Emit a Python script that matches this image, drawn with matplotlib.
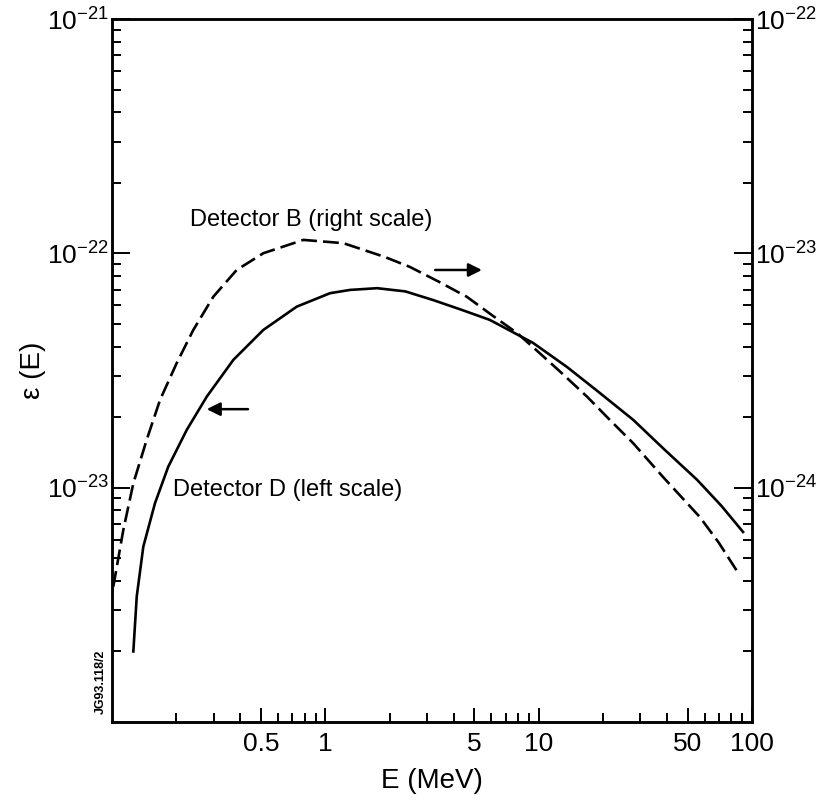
import numpy as np
import matplotlib
matplotlib.use('Agg')
import matplotlib.pyplot as plt
from matplotlib.ticker import FixedLocator, FixedFormatter, NullFormatter

plt.rcParams['font.family'] = ['Liberation Sans', 'DejaVu Sans']
plt.rcParams['mathtext.fontset'] = 'custom'
plt.rcParams['mathtext.rm'] = 'Liberation Sans'

# ── data ────────────────────────────────────────────────────────────────────
# Detector D, left scale
e_d   = [0.1259, 0.1306, 0.1402, 0.159, 0.1836, 0.224, 0.278, 0.3705, 0.512,
         0.734, 1.052, 1.306, 1.75, 2.37, 3.2, 4.4, 5.9, 9.4, 13.6, 19.0,
         27.7, 39.0, 55.3, 72.0, 90.8]
eps_d = [2.0e-24, 3.43e-24, 5.60e-24, 8.58e-24, 1.23e-23, 1.763e-23, 2.445e-23,
         3.51e-23, 4.71e-23, 5.92e-23, 6.76e-23, 6.98e-23, 7.10e-23, 6.88e-23,
         6.32e-23, 5.72e-23, 5.2e-23, 4.15e-23, 3.27e-23, 2.57e-23, 1.95e-23,
         1.45e-23, 1.08e-23, 8.35e-24, 6.47e-24]

# Detector B, right scale
e_b   = [0.1014, 0.113, 0.1259, 0.1454, 0.168, 0.201, 0.2405, 0.2985, 0.384,
         0.512, 0.789, 1.215, 1.9, 2.49, 3.4, 4.61, 6.0, 7.92, 9.4, 12.5,
         16.9, 22.0, 27.7, 38.3, 56.9, 70.0, 86.1]
eps_b = [3.78e-25, 6.6e-25, 1.044e-24, 1.60e-24, 2.37e-24, 3.40e-24, 4.71e-24,
         6.53e-24, 8.49e-24, 1.001e-23, 1.141e-23, 1.105e-23, 9.65e-24,
         8.75e-24, 7.57e-24, 6.52e-24, 5.47e-24, 4.57e-24, 3.98e-24, 3.15e-24,
         2.44e-24, 1.91e-24, 1.55e-24, 1.11e-24, 7.5e-25, 5.81e-25, 4.33e-25]

x_major = [0.5, 1, 5, 10, 50, 100]
x_major_labels = ['0.5', '1', '5', '10', '50', '100']
yl_major = [1e-23, 1e-22, 1e-21]
yr_major = [1e-24, 1e-23, 1e-22]


def minor_ticks(lo_exp, hi_exp, skip=()):
    out = []
    for e in range(lo_exp, hi_exp):
        for m in range(1, 10):
            v = m * 10.0 ** e
            if m == 1 or any(np.isclose(v, s) for s in skip):
                continue
            out.append(v)
    return out


def exp_label(v):
    return r'$\mathregular{10^{%d}}$' % int(round(np.log10(v)))


fig = plt.figure(figsize=(8.24, 8.06), dpi=100)
ax = fig.add_axes([112 / 824, 1 - 722 / 806, 640 / 824, 703 / 806])
ax2 = ax.twinx()

ax.plot(e_d, eps_d, color='black', lw=1.9, solid_joinstyle='round')
ax2.plot(e_b, eps_b, color='black', lw=1.9, dashes=(6, 2.3))

ax.set_xscale('log')
ax.set_yscale('log')
ax2.set_yscale('log')
ax.set_xlim(0.1, 100)
ax.set_ylim(1e-24, 1e-21)
ax2.set_ylim(1e-25, 1e-22)

# x ticks
ax.xaxis.set_major_locator(FixedLocator(x_major))
ax.xaxis.set_major_formatter(FixedFormatter(x_major_labels))
ax.xaxis.set_minor_locator(FixedLocator(minor_ticks(-1, 2, skip=x_major)))
ax.xaxis.set_minor_formatter(NullFormatter())

# y ticks
ax.yaxis.set_major_locator(FixedLocator(yl_major))
ax.yaxis.set_major_formatter(FixedFormatter([exp_label(v) for v in yl_major]))
ax.yaxis.set_minor_locator(FixedLocator(minor_ticks(-24, -21)))
ax.yaxis.set_minor_formatter(NullFormatter())
ax2.yaxis.set_major_locator(FixedLocator(yr_major))
ax2.yaxis.set_major_formatter(FixedFormatter([exp_label(v) for v in yr_major]))
ax2.yaxis.set_minor_locator(FixedLocator(minor_ticks(-25, -22)))
ax2.yaxis.set_minor_formatter(NullFormatter())

ax.tick_params(which='both', direction='in', top=False, right=False, width=1.4)
ax.tick_params(axis='x', which='major', length=10, labelsize=19, pad=7)
ax.tick_params(axis='x', which='minor', length=6.5)
ax.tick_params(axis='y', which='major', length=13, labelsize=19, pad=2)
ax.tick_params(axis='y', which='minor', length=6.5)
ax2.tick_params(which='both', direction='in', width=1.4)
ax2.tick_params(which='major', length=13, labelsize=19, pad=2)
ax2.tick_params(which='minor', length=6.5)

for a in (ax, ax2):
    for s in a.spines.values():
        s.set_linewidth(1.8)

ax.set_xlabel('E (MeV)', fontsize=20, labelpad=9)
ax.set_ylabel('ε (E)', fontsize=20, labelpad=1)

ax.text(0.122, 0.714, 'Detector B (right scale)', transform=ax.transAxes,
        fontsize=17, va='center', ha='left')
ax.text(0.095, 0.330, 'Detector D (left scale)', transform=ax.transAxes,
        fontsize=17, va='center', ha='left')

arrow = dict(arrowstyle='-|>', lw=1.8, color='black', mutation_scale=20,
             shrinkA=0, shrinkB=0)
ax.annotate('', xy=(0.578, 0.643), xytext=(0.505, 0.643),
            xycoords='axes fraction', arrowprops=arrow)
ax.annotate('', xy=(0.148, 0.445), xytext=(0.2125, 0.445),
            xycoords='axes fraction', arrowprops=arrow)

fig.text(101 / 824, 1 - 682 / 806, 'JG93.118/2', rotation=90, fontsize=9,
         ha='center', va='center', fontweight='bold')

plt.savefig('out.png', dpi=100)
plt.close()
